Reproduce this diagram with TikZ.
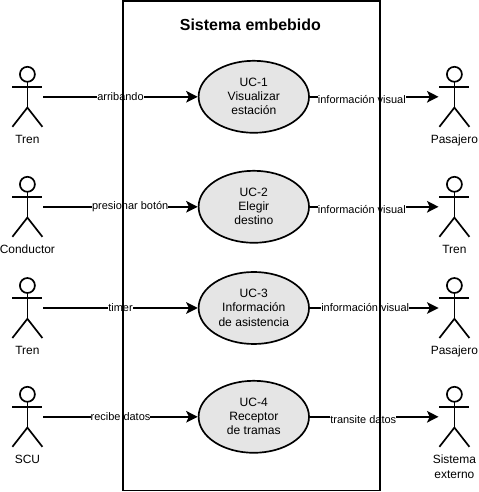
\documentclass[tikz,border=0pt]{standalone}
\usepackage{fontspec}
\setmainfont{Liberation Sans}
\usetikzlibrary{arrows.meta,positioning,shapes.geometric}
\tikzset{
    every path/.style={line width=1.2pt},
    usecase/.style={draw,ellipse,fill=black!10,minimum width=2.76cm,minimum height=1.8cm,inner sep=0pt,align=center,text depth=0.7pt,font=\fontsize{8.6}{10.2}\selectfont},
    actorbox/.style={minimum width=0.75cm,minimum height=1.5cm,inner sep=0pt},
    actortext/.style={align=center,font=\fontsize{8.5}{10.5}\selectfont},
    flow/.style={-{Stealth[length=0.29cm,width=0.29cm,inset=0.07cm]}},
    flowtext/.style={fill=white,inner sep=0pt,font=\fontsize{7.8}{9}\selectfont},
    lowtext/.style={flowtext,yshift=-0.065cm}
}
% stick figure with its name below
\newcommand{\actor}[4]{
    \node[actorbox] (#1) at (#2,#3) {};
    \draw (#2,#3+0.5625) circle (0.1875);
    \draw (#2,#3+0.375) -- (#2,#3-0.27);
    \draw (#2-0.375,#3+0.25) -- (#2+0.375,#3+0.25);
    \draw (#2-0.375,#3-0.75) -- (#2,#3-0.27) -- (#2+0.375,#3-0.75);
    \node[actortext,below=0.045cm of #1] (#1text) {#4};
}
\begin{document}
\begin{tikzpicture}
\useasboundingbox (0,0) rectangle (11.95,12.3);
\actor{tren1}{0.685}{9.88}{Tren}
\actor{conductor}{0.685}{7.13}{Conductor}
\actor{tren2}{0.685}{4.6}{Tren}
\actor{scu}{0.685}{1.88}{SCU}
\actor{pasajero1}{11.36}{9.88}{Pasajero}
\actor{tren3}{11.36}{7.13}{Tren}
\actor{pasajero2}{11.36}{4.6}{Pasajero}
\actor{externo}{11.36}{1.88}{Sistema\\externo}
\node[usecase] (uc1) at (6.345,9.88) {UC-1\\Visualizar\\estación};
\node[usecase] (uc2) at (6.345,7.13) {UC-2\\Elegir\\destino};
\node[usecase] (uc3) at (6.345,4.6) {UC-3\\Información\\de asistencia};
\node[usecase] (uc4) at (6.345,1.88) {UC-4\\Receptor\\de tramas};
\draw[flow] (tren1) -- node[flowtext] {arribando} (uc1);
\draw[flow] (conductor) -- node[flowtext,pos=0.563] {presionar botón} (uc2);
\draw[flow] (tren2) -- node[flowtext] {timer} (uc3);
\draw[flow] (scu) -- node[flowtext] {recibe datos} (uc4);
\draw[flow] (uc1) -- node[lowtext,pos=0.404] {información visual} (pasajero1);
\draw[flow] (uc2) -- node[lowtext,pos=0.404] {información visual} (tren3);
\draw[flow] (uc3) -- node[flowtext,pos=0.43] {información visual} (pasajero2);
\draw[flow] (uc4) -- node[lowtext,pos=0.415] {transite datos} (externo);
\node[draw,minimum width=6.425cm,minimum height=12.24cm,inner sep=0pt] (sistema) at (6.28,6.155) {};
\node[font=\bfseries\fontsize{11.35}{14}\selectfont] (titulo) at (6.26,11.675) {Sistema embebido};
\end{tikzpicture}
\end{document}
